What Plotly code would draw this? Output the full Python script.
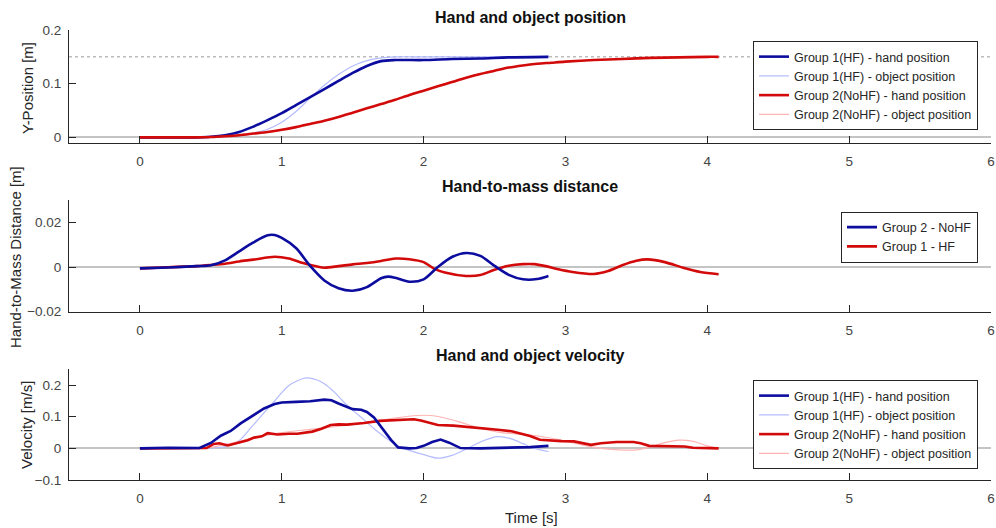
import plotly.graph_objects as go

# ---------------- data ----------------
# Hand and object Y-position [m]
t_pos_g1 = [0, 0.4, 0.5, 0.6, 0.7, 0.8, 0.9, 1.0, 1.1, 1.2, 1.3, 1.4, 1.5, 1.6, 1.7, 1.8, 2.0, 2.2, 2.4, 2.6, 2.88]
hand_pos_g1 = [0, 0, 0.001, 0.004, 0.010, 0.020, 0.032, 0.045, 0.060, 0.075, 0.090, 0.105, 0.120, 0.133, 0.142,
               0.144, 0.144, 0.146, 0.147, 0.149, 0.150]
t_obj_pos_g1 = [0, 0.5, 0.6, 0.7, 0.8, 0.9, 1.0, 1.1, 1.2, 1.3, 1.4, 1.5, 1.6, 1.7, 1.8, 2.0, 2.4, 2.88]
obj_pos_g1 = [0, 0, 0.001, 0.004, 0.008, 0.015, 0.028, 0.048, 0.073, 0.097, 0.117, 0.133, 0.143, 0.148, 0.150,
              0.150, 0.150, 0.151]

t_pos_g2 = [0, 0.4, 0.5, 0.6, 0.7, 0.8, 0.9, 1.0, 1.1, 1.2, 1.3, 1.4, 1.5, 1.6, 1.7, 1.8, 1.9, 2.0, 2.1, 2.2,
            2.3, 2.4, 2.5, 2.6, 2.7, 2.8, 2.9, 3.0, 3.2, 3.4, 3.6, 3.8, 4.0, 4.08]
hand_pos_g2 = [0, 0, 0.0005, 0.002, 0.004, 0.007, 0.010, 0.014, 0.019, 0.025, 0.031, 0.038, 0.046, 0.054, 0.062,
               0.070, 0.079, 0.087, 0.095, 0.103, 0.111, 0.118, 0.124, 0.130, 0.134, 0.137, 0.139, 0.141, 0.144,
               0.146, 0.148, 0.149, 0.150, 0.150]
obj_pos_g2 = [0, 0, 0.0003, 0.0015, 0.0035, 0.0065, 0.0095, 0.0135, 0.0185, 0.0245, 0.031, 0.038, 0.046, 0.054,
              0.062, 0.070, 0.078, 0.087, 0.096, 0.104, 0.112, 0.119, 0.125, 0.130, 0.134, 0.137, 0.139, 0.141,
              0.144, 0.146, 0.148, 0.149, 0.150, 0.150]
target_pos = 0.15

# Hand-to-mass distance [m]
t_dist_g2 = [0, 0.2, 0.4, 0.5, 0.6, 0.7, 0.8, 0.9, 0.95, 1.0, 1.1, 1.2, 1.3, 1.4, 1.5, 1.6, 1.7, 1.75, 1.8, 1.9,
             2.0, 2.1, 2.2, 2.3, 2.4, 2.5, 2.6, 2.7, 2.8, 2.88]
dist_g2 = [-0.0006, -0.0002, 0.0004, 0.0008, 0.003, 0.007, 0.011, 0.0142, 0.0143, 0.013, 0.0085, 0.0005, -0.006,
           -0.0095, -0.0106, -0.009, -0.005, -0.0043, -0.0048, -0.0066, -0.0055, 0.0, 0.0045, 0.0063, 0.005,
           0.0005, -0.0035, -0.0055, -0.0054, -0.004]
t_dist_g1 = [0, 0.2, 0.4, 0.5, 0.6, 0.7, 0.8, 0.95, 1.05, 1.15, 1.25, 1.3, 1.4, 1.5, 1.6, 1.7, 1.8, 1.9, 2.0,
             2.07, 2.15, 2.3, 2.4, 2.5, 2.6, 2.7, 2.78, 2.86, 2.95, 3.05, 3.2, 3.3, 3.4, 3.5, 3.58, 3.7, 3.83,
             3.95, 4.08]
dist_g1 = [-0.0006, -0.0001, 0.0004, 0.0009, 0.0015, 0.0025, 0.0033, 0.0046, 0.0038, 0.0018, 0.0002, -0.0003,
           0.0004, 0.0012, 0.0018, 0.0027, 0.0038, 0.0035, 0.0022, -0.0006, -0.0025, -0.004, -0.0036, -0.0012,
           0.0006, 0.0013, 0.0013, 0.0004, -0.0010, -0.0022, -0.0031, -0.0018, 0.0008, 0.0028, 0.0034, 0.0022,
           -0.0003, -0.0022, -0.0032]

# Hand and object velocity [m/s]
t_vel_hand_g1 = [0, 0.2, 0.42, 0.5, 0.57, 0.64, 0.71, 0.78, 0.875, 0.95, 1.0, 1.1, 1.2, 1.3, 1.35, 1.4, 1.45,
                 1.5, 1.56, 1.6, 1.65, 1.7, 1.77, 1.82, 1.9, 1.95, 2.0, 2.06, 2.12, 2.18, 2.26, 2.4, 2.6, 2.75,
                 2.88]
vel_hand_g1 = [0, 0.002, 0.001, 0.017, 0.04, 0.055, 0.079, 0.10, 0.126, 0.14, 0.145, 0.147, 0.149, 0.154,
               0.152, 0.142, 0.132, 0.124, 0.122, 0.115, 0.098, 0.069, 0.027, 0.003, 0, 0.001, 0.008, 0.02,
               0.028, 0.018, 0.001, 0, 0.001, 0.004, 0.008]
t_vel_obj_g1 = [0, 0.4, 0.5, 0.6, 0.7, 0.78, 0.86, 0.94, 1.05, 1.17, 1.25, 1.3, 1.37, 1.44, 1.51, 1.58, 1.67,
                1.77, 1.84, 1.91, 2.0, 2.1, 2.2, 2.31, 2.42, 2.52, 2.62, 2.7, 2.78, 2.88]
vel_obj_g1 = [0, 0, 0.001, 0.006, 0.025, 0.064, 0.105, 0.145, 0.199, 0.223, 0.216, 0.204, 0.178, 0.145, 0.117,
              0.09, 0.055, 0.022, 0.003, -0.008, -0.02, -0.031, -0.022, 0.0, 0.024, 0.037, 0.03, 0.015, 0.0,
              -0.01]
t_vel_hand_g2 = [0, 0.2, 0.47, 0.52, 0.56, 0.62, 0.67, 0.71, 0.76, 0.805, 0.86, 0.9, 0.97, 1.05, 1.11, 1.215,
                 1.28, 1.345, 1.4, 1.46, 1.52, 1.58, 1.69, 1.815, 1.93, 1.98, 2.03, 2.1, 2.21, 2.31, 2.42, 2.54,
                 2.62, 2.68, 2.75, 2.82, 2.9, 2.97, 3.06, 3.13, 3.18, 3.25, 3.36, 3.48, 3.53, 3.59, 3.72, 3.84,
                 3.9, 4.0, 4.08]
vel_hand_g2 = [0, 0.001, 0.001, 0.014, 0.016, 0.009, 0.015, 0.022, 0.026, 0.034, 0.038, 0.048, 0.044, 0.046,
               0.046, 0.053, 0.062, 0.074, 0.076, 0.075, 0.077, 0.08, 0.087, 0.09, 0.092, 0.088, 0.082, 0.074,
               0.072, 0.068, 0.065, 0.058, 0.054, 0.046, 0.039, 0.027, 0.024, 0.023, 0.022, 0.016, 0.011, 0.016,
               0.02, 0.02, 0.016, 0.008, 0.008, 0.006, 0.002, 0.002, 0.0]
t_vel_obj_g2 = [0, 0.4, 0.5, 0.6, 0.7, 0.8, 0.9, 1.0, 1.2, 1.4, 1.6, 1.8, 1.95, 2.05, 2.15, 2.25, 2.35, 2.45,
                2.55, 2.65, 2.75, 2.85, 2.95, 3.05, 3.15, 3.25, 3.35, 3.5, 3.6, 3.7, 3.8, 3.9, 4.0, 4.08]
vel_obj_g2 = [0, 0, 0.003, 0.012, 0.022, 0.033, 0.042, 0.05, 0.06, 0.07, 0.082, 0.096, 0.104, 0.104, 0.096,
              0.084, 0.07, 0.058, 0.05, 0.046, 0.042, 0.036, 0.028, 0.018, 0.008, 0.0, -0.004, -0.005, 0.005,
              0.018, 0.026, 0.022, 0.008, 0.0]

x_ticks = [0, 1, 2, 3, 4, 5, 6]

# ---------------- styling ----------------
BLUE = "#0c0c9e"
LIGHT_BLUE = "#b4bcff"
RED = "#d20a0a"
PINK = "#ffb4b4"
AXIS = "#262626"
FONT = "Liberation Sans, Arial, sans-serif"
TICKFONT = dict(family=FONT, size=13.5, color="#444444")

fig = go.Figure()


def add(x, y, name, color, width, xa, ya, legend, shape="spline"):
    fig.add_trace(go.Scatter(x=x, y=y, name=name, mode="lines",
                             line=dict(color=color, width=width, shape=shape, smoothing=0.8),
                             xaxis=xa, yaxis=ya, legend=legend))


# Panel 1: position
add(t_obj_pos_g1, obj_pos_g1, "Group 1(HF) - object position", LIGHT_BLUE, 1.2, "x", "y", "legend")
add(t_pos_g2, obj_pos_g2, "Group 2(NoHF) - object position", PINK, 1.2, "x", "y", "legend")
add(t_pos_g1, hand_pos_g1, "Group 1(HF) - hand position", BLUE, 2.6, "x", "y", "legend")
add(t_pos_g2, hand_pos_g2, "Group 2(NoHF) - hand position", RED, 2.6, "x", "y", "legend")

# Panel 2: hand-to-mass distance
add(t_dist_g1, dist_g1, "Group 1 - HF", RED, 2.6, "x2", "y2", "legend2")
add(t_dist_g2, dist_g2, "Group 2 - NoHF", BLUE, 2.6, "x2", "y2", "legend2")

# Panel 3: velocity
add(t_vel_obj_g1, vel_obj_g1, "Group 1(HF) - object position", LIGHT_BLUE, 1.2, "x3", "y3", "legend3")
add(t_vel_obj_g2, vel_obj_g2, "Group 2(NoHF) - object position", PINK, 1.2, "x3", "y3", "legend3")
add(t_vel_hand_g2, vel_hand_g2, "Group 2(NoHF) - hand position", RED, 2.6, "x3", "y3", "legend3", "linear")
add(t_vel_hand_g1, vel_hand_g1, "Group 1(HF) - hand position", BLUE, 2.6, "x3", "y3", "legend3", "linear")

W, H = 996, 528
x_dom = [69 / W, 991 / W]


def ydom(top_px, bot_px):
    return [(H - bot_px) / H, (H - top_px) / H]


common_x = dict(range=[-0.5, 6], tickvals=x_ticks, showline=True, linecolor=AXIS, linewidth=1,
                ticks="inside", ticklen=7, tickcolor=AXIS, showgrid=False, zeroline=False,
                tickfont=TICKFONT, domain=x_dom, ticklabelstandoff=6, automargin=False)
common_y = dict(showline=True, linecolor=AXIS, linewidth=1, ticks="inside", ticklen=7, tickcolor=AXIS,
                showgrid=False, zeroline=True, zerolinecolor="#c4c4c4", zerolinewidth=2,
                tickfont=TICKFONT, ticklabelstandoff=4, automargin=False)

legend_common = dict(bgcolor="white", bordercolor=AXIS, borderwidth=1, xanchor="right", yanchor="top",
                     font=dict(family=FONT, size=12.5, color="#262626"), traceorder="normal",
                     tracegroupgap=0)

fig.update_layout(
    width=W, height=H, margin=dict(l=0, r=0, t=0, b=0, autoexpand=False),
    paper_bgcolor="white", plot_bgcolor="white",
    xaxis=dict(common_x, anchor="y"),
    yaxis=dict(common_y, range=[-0.01, 0.2], tickvals=[0, 0.1, 0.2], domain=ydom(30, 142.7), anchor="x"),
    xaxis2=dict(common_x, anchor="y2"),
    yaxis2=dict(common_y, range=[-0.02, 0.03], tickvals=[-0.02, 0, 0.02], domain=ydom(200, 311.7),
                anchor="x2"),
    xaxis3=dict(common_x, anchor="y3"),
    yaxis3=dict(common_y, range=[-0.1, 0.25], tickvals=[-0.1, 0, 0.1, 0.2], domain=ydom(369.3, 480),
                anchor="x3"),
    legend=dict(legend_common, x=978 / W, y=1 - 41 / H),
    legend2=dict(legend_common, x=978 / W, y=1 - 211.5 / H),
    legend3=dict(legend_common, x=978 / W, y=1 - 380 / H),
    showlegend=True,
)

# legend order within each box
order1 = ["Group 1(HF) - hand position", "Group 1(HF) - object position",
          "Group 2(NoHF) - hand position", "Group 2(NoHF) - object position"]
order2 = ["Group 2 - NoHF", "Group 1 - HF"]
for tr in fig.data:
    if tr.legend == "legend2":
        tr.legendrank = order2.index(tr.name)
    else:
        tr.legendrank = order1.index(tr.name)

# target position line
fig.add_shape(type="line", xref="x", yref="y", x0=-0.5, x1=6, y0=target_pos, y1=target_pos,
              line=dict(color="#9a9a9a", width=1, dash="dot"), layer="below")

# titles
titles = [("Hand and object position", 17), ("Hand-to-mass distance", 186), ("Hand and object velocity", 355)]
for text, ypx in titles:
    fig.add_annotation(text=f"<b>{text}</b>", x=530 / W, y=1 - ypx / H, xref="paper", yref="paper",
                       showarrow=False, xanchor="center", yanchor="middle",
                       font=dict(family=FONT, size=16, color="#111111"))

# axis labels
ylabels = [("Y-Position [m]", 28, 88), ("Hand-to-Mass Distance [m]", 15, 257), ("Velocity [m/s]", 26, 425)]
for text, xpx, ypx in ylabels:
    fig.add_annotation(text=text, x=xpx / W, y=1 - ypx / H, xref="paper", yref="paper", showarrow=False,
                       textangle=-90, xanchor="center", yanchor="middle",
                       font=dict(family=FONT, size=15, color="#262626"))
fig.add_annotation(text="Time [s]", x=531 / W, y=1 - 517 / H, xref="paper", yref="paper", showarrow=False,
                   xanchor="center", yanchor="middle", font=dict(family=FONT, size=15, color="#262626"))

fig.write_html("out.html")
